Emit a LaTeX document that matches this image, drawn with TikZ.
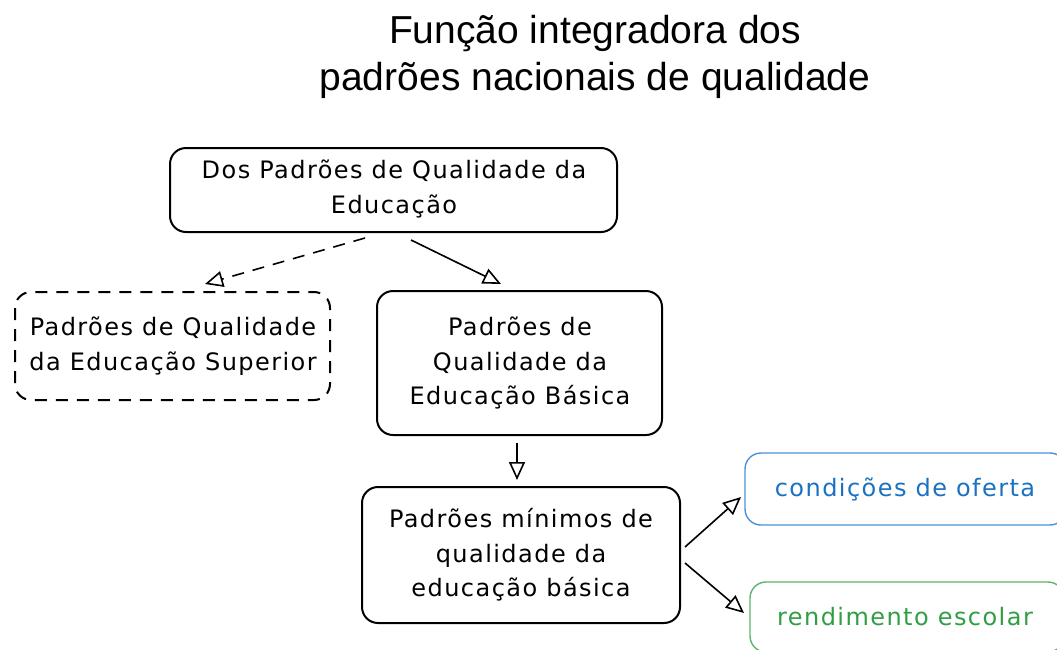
\documentclass[tikz,border=0pt]{standalone}
\usepackage{fontspec}
\setmainfont{DejaVu Sans}[LetterSpace=6]
\newfontfamily\titlefont{Liberation Sans}
\usetikzlibrary{arrows.meta}
\definecolor{exblue}{HTML}{1971C2}
\definecolor{exblueline}{HTML}{4A90D9}
\definecolor{exgreen}{HTML}{2F9E44}
\definecolor{exgreenline}{HTML}{5DB36B}
\begin{document}
\begin{tikzpicture}[x=1pt,y=-1pt,
  boxtxt/.style={font=\fontsize{24}{34.5}\selectfont, align=center, inner sep=0pt},
  card/.style={draw=black, line width=2pt, rounded corners=16pt},
  arr/.style={line width=1.6pt, -{Triangle[open, length=18pt, width=16pt, line width=1.6pt]}},
]
\useasboundingbox (0,0) rectangle (1057,649);
\clip (0,0) rectangle (1057,649);
% title
\node[font=\titlefont\fontsize{39}{47}\selectfont, align=center] (title) at (595,57) {Função integradora dos\\padrões nacionais de qualidade};
% boxes
\draw[card] (170,148) rectangle (617,232);
\node[boxtxt] (top) at (394,189) {Dos Padrões de Qualidade da\\Educação};
\draw[card, dashed, dash pattern=on 12pt off 9pt] (15,292) rectangle (330,400);
\node[boxtxt] (sup) at (173,346) {Padrões de Qualidade\\da Educação Superior};
\draw[card] (377,291) rectangle (662,435);
\node[boxtxt] (bas) at (520,363) {Padrões de\\Qualidade da\\Educação Básica};
\draw[card] (362,487) rectangle (680,623);
\node[boxtxt] (min) at (521,555) {Padrões mínimos de\\qualidade da\\educação básica};
\draw[card, draw=exblueline, line width=1.4pt] (745,453) rectangle (1066,525);
\node[boxtxt, text=exblue] (cond) at (905,489) {condições de oferta};
\draw[card, draw=exgreenline, line width=1.4pt] (750,582) rectangle (1064,652);
\node[boxtxt, text=exgreen] (rend) at (905,617) {rendimento escolar};
% anchor coordinates
\coordinate (a1) at (365,238);
\coordinate (a1e) at (205,284);
\coordinate (a2) at (411,240);
\coordinate (a2e) at (501,284);
\coordinate (a3) at (517,443);
\coordinate (a3e) at (517,480);
\coordinate (a4) at (685,547);
\coordinate (a4e) at (741,497);
\coordinate (a5) at (685,563);
\coordinate (a5e) at (744,613);
\draw[arr, dashed, dash pattern=on 12pt off 9pt] (a1) -- (a1e);
\draw[arr] (a2) -- (a2e);
\draw[arr] (a3) -- (a3e);
\draw[arr] (a4) -- (a4e);
\draw[arr] (a5) -- (a5e);
\end{tikzpicture}
\end{document}
